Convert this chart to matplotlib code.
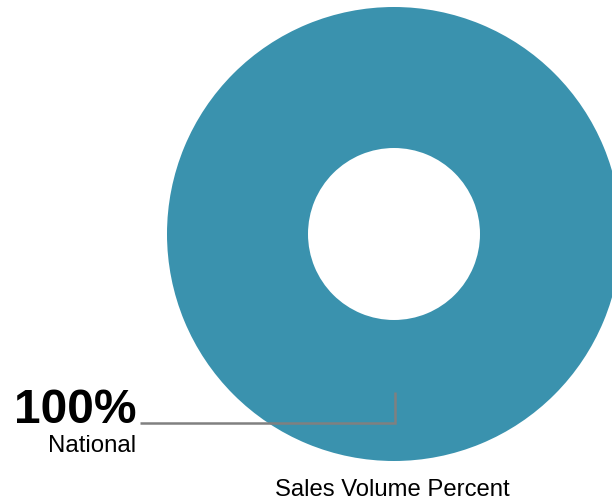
import matplotlib
matplotlib.use("Agg")
import matplotlib.pyplot as plt

# data
categories = ["National"]
shares = [100]
label_text = "100%"
chart_title = "Sales Volume Percent"

plt.rcParams['font.family'] = ['Liberation Sans', 'DejaVu Sans']

W, H = 612, 502
fig = plt.figure(figsize=(W / 100, H / 100), dpi=100)
ax = fig.add_axes([0, 0, 1, 1])

cx, cy, r_out, r_in = 394, 235, 227, 86
ax.pie(shares, center=(cx, cy), radius=r_out, colors=["#3a92ae"],
       startangle=90, counterclock=False,
       wedgeprops=dict(width=r_out - r_in, edgecolor="none"))

ax.set_xlim(0, W)
ax.set_ylim(H, 0)
ax.set_aspect("equal")
ax.axis("off")

# leader line
ax.plot([395, 395, 140], [393, 424, 424], color="#808080", lw=1.8,
        solid_joinstyle="miter", solid_capstyle="butt")

ax.text(136, 423, label_text, ha="right", va="baseline",
        fontsize=34.5, fontweight="bold", color="black")
ax.text(136, 452, categories[0], ha="right", va="baseline",
        fontsize=17.3, color="black")
ax.text(392.5, 496, chart_title, ha="center", va="baseline",
        fontsize=17.2, color="black")

fig.savefig("out.png", dpi=100)
